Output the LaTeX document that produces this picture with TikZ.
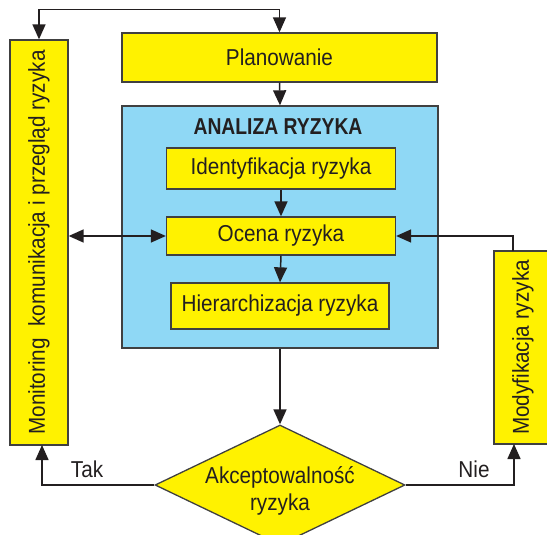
\documentclass[tikz,border=0pt]{standalone}
\usepackage{fontspec}
\setmainfont{Liberation Sans}[FakeStretch=0.9]
\newfontfamily\titlefont{Liberation Sans}[FakeStretch=0.84]
\usetikzlibrary{arrows.meta,shapes.geometric}
\definecolor{boxyellow}{HTML}{FFF200}
\definecolor{boxblue}{HTML}{8FD8F5}
\definecolor{edgegray}{HTML}{404040}
\definecolor{linecol}{HTML}{231F20}
\begin{document}
\begin{tikzpicture}[x=1pt,y=-1pt,
  ybox/.style={draw=edgegray,line width=1.3pt,fill=boxyellow,inner sep=0pt,
    font=\fontsize{23}{27}\selectfont,text=linecol},
  conn/.style={draw=linecol,line width=1.5pt,-{Triangle[length=15pt,width=13pt]}},
  conn2/.style={draw=linecol,line width=1.5pt,{Triangle[length=15pt,width=13pt]}-{Triangle[length=15pt,width=13pt]}},
  lbl/.style={font=\fontsize{23}{27}\selectfont,text=linecol}]
\useasboundingbox (0,0) rectangle (547,535);
% analysis frame
\node[draw=edgegray,line width=1.3pt,fill=boxblue,minimum width=316pt,minimum height=242pt,inner sep=0pt] (ana) at (280,227) {};
\node[font=\titlefont\bfseries\fontsize{23}{27}\selectfont,text=linecol] (title) at (278,127) {ANALIZA RYZYKA};
% boxes
\node[ybox,minimum width=315pt,minimum height=49pt] (plan) at (279.5,57.5) {Planowanie};
\node[ybox,minimum width=229pt,minimum height=41pt] (ident) at (281,168.5) {Identyfikacja ryzyka};
\node[ybox,minimum width=229pt,minimum height=38pt] (ocena) at (281,236) {Ocena ryzyka};
\node[ybox,minimum width=218pt,minimum height=46pt] (hier) at (280,306) {Hierarchizacja ryzyka};
\node[ybox,minimum width=405pt,minimum height=58pt,rotate=90] (mon) at (39,242.5) {Monitoring\ \ komunikacja i przegląd ryzyka};
\node[ybox,minimum width=193pt,minimum height=58pt,rotate=90] (mod) at (523,347.5) {Modyfikacja ryzyka};
% decision
\node[diamond,draw=edgegray,line width=1.3pt,fill=boxyellow,minimum width=250pt,minimum height=120pt,inner sep=0pt] (dec) at (280,485) {};
\node[lbl,align=center] (dectext) at (280,491) {Akceptowalność\\ryzyka};
% connector helpers
\coordinate (topline) at (160,9.5);
\coordinate (modtop) at (513,251);
\coordinate (modbot) at (514,444);
\coordinate (monbot) at (42,445);
% connectors
\draw[conn2] (mon.east) |- (topline) -| (plan.north);
\draw[conn] (plan.south) -- (ana.north);
\draw[conn] (ident.south) -- (ocena.north);
\draw[conn] (ocena.south) -- (hier.north);
\draw[conn2] (mon.south |- ocena.west) -- (ocena.west);
\draw[conn] (modtop) |- (ocena.east);
\draw[conn] (ana.south -| dec.north) -- (dec.north);
\draw[conn] (dec.west) -| (monbot);
\draw[conn] (dec.east) -| (modbot);
% labels
\node[lbl] (tak) at (87,469) {Tak};
\node[lbl] (nie) at (474,469) {Nie};
\end{tikzpicture}
\end{document}
